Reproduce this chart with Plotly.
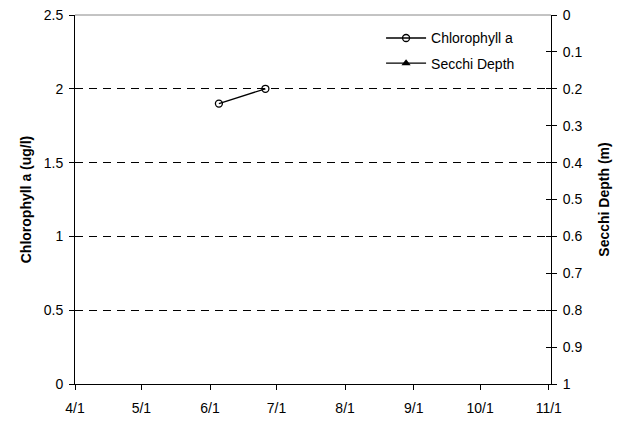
import plotly.graph_objects as go

chl_dates = ["2008-06-05", "2008-06-26"]
chl_values = [1.9, 2.0]
secchi_dates = [None]
secchi_values = [None]

x_tickvals = ["2008-04-01", "2008-05-01", "2008-06-01", "2008-07-01",
              "2008-08-01", "2008-09-01", "2008-10-01", "2008-11-01"]
x_ticktext = ["4/1", "5/1", "6/1", "7/1", "8/1", "9/1", "10/1", "11/1"]

font = "Liberation Sans, Arial, sans-serif"

fig = go.Figure()
fig.add_trace(go.Scatter(
    x=chl_dates, y=chl_values, name="Chlorophyll a", mode="lines+markers",
    legendgroup="a",
    line=dict(color="black", width=1.3),
    marker=dict(symbol="circle-open", size=7, color="black", line=dict(width=1.3)),
))
fig.add_trace(go.Scatter(
    x=secchi_dates, y=secchi_values, name="Secchi Depth", mode="lines+markers",
    yaxis="y2", legendgroup="b",
    line=dict(color="black", width=1.3),
    marker=dict(symbol="triangle-up", size=8, color="black"),
))

fig.update_layout(
    width=626, height=425,
    margin=dict(l=75, r=75, t=15, b=41),
    paper_bgcolor="white", plot_bgcolor="white",
    font=dict(family=font, size=14, color="black"),
    showlegend=True,
    legend=dict(x=0.643, y=0.98, xanchor="left", yanchor="top",
                bgcolor="rgba(0,0,0,0)", font=dict(size=14, family=font),
                itemwidth=40, traceorder="grouped", tracegroupgap=4),
    xaxis=dict(
        type="date", range=["2008-04-01", "2008-11-02"], automargin=False,
        tickvals=x_tickvals, ticktext=x_ticktext,
        showgrid=False, zeroline=False,
        showline=True, linecolor="black", linewidth=1,
        ticks="outside", ticklen=5, tickcolor="black",
        ticklabelstandoff=6,
        tickfont=dict(size=14),
    ),
    yaxis=dict(
        range=[0, 2.5], dtick=0.5, automargin=False,
        showgrid=True, gridcolor="black", gridwidth=1, griddash="8px,6px",
        zeroline=False, showline=True, linecolor="black", linewidth=1,
        ticks="outside", ticklen=5, tickcolor="black",
        ticklabelstandoff=3,
        title=dict(text="<b>Chlorophyll a (ug/l)</b>", font=dict(size=14), standoff=8),
        tickfont=dict(size=14),
    ),
    yaxis2=dict(
        overlaying="y", side="right", range=[1, 0], dtick=0.1, automargin=False,
        showgrid=False, zeroline=False, showline=True, linecolor="black", linewidth=1,
        ticks="outside", ticklen=5, tickcolor="black",
        ticklabelstandoff=3,
        title=dict(text="<b>Secchi Depth (m)</b>", font=dict(size=14), standoff=17),
        tickfont=dict(size=14),
    ),
    yaxis3=dict(
        overlaying="y", side="right", range=[1, 0], dtick=0.1, automargin=False,
        showgrid=False, zeroline=False, showline=False,
        ticks="inside", ticklen=5, tickcolor="black", showticklabels=False,
    ),
)
fig.add_trace(go.Scatter(x=[None], y=[None], yaxis="y3", showlegend=False, hoverinfo="skip"))
fig.add_shape(type="line", xref="paper", yref="paper", x0=0, x1=1, y0=1, y1=1,
              line=dict(color="#888888", width=1))

fig.write_html("out.html", config={"displayModeBar": False},
               post_script="document.body.style.margin='0';")
